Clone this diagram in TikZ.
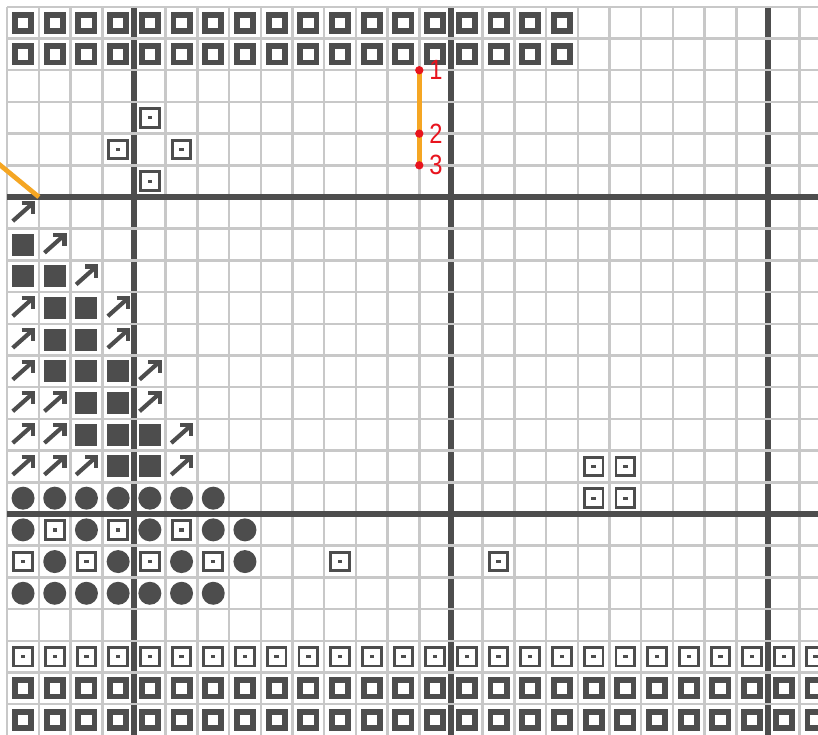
\documentclass[tikz,border=0pt]{standalone}
\usepackage{fontspec}
\newfontfamily\labfont{Liberation Sans}
\usetikzlibrary{positioning}
\definecolor{tile}{HTML}{4D4D4D}
\definecolor{gridgray}{HTML}{C8C8C8}
\definecolor{trail}{HTML}{F5A623}
\definecolor{mark}{HTML}{E8141E}
\tikzset{
  minor/.style = {draw=gridgray, line width=1.8pt},
  major/.style = {draw=tile, line width=4.3pt},
  wall/.style  = {draw=tile, line width=4.2pt, minimum size=11.6pt, inner sep=0pt},
  coin/.style  = {draw=tile, line width=2.1pt, minimum size=13.4pt, inner sep=0pt,
                  path picture={\fill[tile] (path picture bounding box.center)
                                ++(-1.6pt,-1.2pt) rectangle ++(3.2pt,2.4pt);}},
  solid/.style = {fill=tile, minimum size=15.8pt, inner sep=0pt},
  ball/.style  = {circle, fill=tile, minimum size=16.5pt, inner sep=0pt},
  rope/.style  = {draw=trail, line width=3.4pt},
  dot/.style   = {circle, fill=mark, minimum size=6pt, inner sep=0pt},
  num/.style   = {text=mark, font=\labfont\fontsize{20}{20}\selectfont, inner sep=1pt,
                  xscale=0.85},
  pics/upr/.style = {code={
    \draw[tile, line width=3pt] (-7.4pt,-5.9pt) -- (6.4pt,6.4pt);
    \draw[tile, line width=3pt, line join=miter] (-1pt,7pt) -- (7pt,7pt) -- (7pt,-1pt);
  }},
}
\begin{document}
\begin{tikzpicture}[x=8mm, y=-8mm]
\useasboundingbox (-0.227,-0.215) rectangle (25.577,22.94);
\clip (-0.227,-0.215) rectangle (25.577,22.94);
\fill[white] (-0.227,-0.215) rectangle (25.577,22.94);
\foreach \c in {0,...,26} \draw[minor] (\c,0) -- (\c,23.5);
\foreach \c in {4,14,24} \draw[major] (\c,0) -- (\c,23.5);
\foreach \r in {0,...,23} \draw[minor] (0,\r) -- (26.5,\r);
\foreach \r in {6,16} \draw[major] (0,\r) -- (26.5,\r);

\foreach \r in {0,1} \foreach \c in {0,...,17} \node[wall] at (\c+.5,\r+.5) {};
\foreach \r in {21,22} \foreach \c in {0,...,25} \node[wall] at (\c+.5,\r+.5) {};
\foreach \c in {0,...,25} \node[coin] at (\c+.5,20.5) {};
\foreach \c/\r in {4/3,3/4,5/4,4/5,18/14,19/14,18/15,19/15,1/16,3/16,5/16,
                   0/17,2/17,4/17,6/17,10/17,15/17}
  \node[coin] at (\c+.5,\r+.5) {};

\foreach \c/\r in {0/7,0/8,1/8,1/9,2/9,1/10,2/10,1/11,2/11,3/11,2/12,3/12,
                   2/13,3/13,4/13,3/14,4/14}
  \node[solid] at (\c+.5,\r+.5) {};
\foreach \c/\r in {0/6,1/7,2/8,0/9,3/9,0/10,3/10,0/11,4/11,0/12,1/12,4/12,
                   0/13,1/13,5/13,0/14,1/14,2/14,5/14}
  \pic at (\c+.5,\r+.5) {upr};
\foreach \c in {0,...,6} \node[ball] at (\c+.5,15.5) {};
\foreach \c in {0,...,6} \node[ball] at (\c+.5,18.5) {};
\foreach \c/\r in {0/16,2/16,4/16,6/16,7/16,1/17,3/17,5/17,7/17}
  \node[ball] at (\c+.5,\r+.5) {};

\coordinate (ropeA) at (-0.3,4.93);
\coordinate (ropeB) at (1,6);
\draw[rope] (ropeA) -- (ropeB);
\coordinate (p1) at (13,2);
\coordinate (p2) at (13,4);
\coordinate (p3) at (13,5);
\draw[rope] (p1) -- (p3);
\node[dot] (d1) at (p1) {};
\node[dot] (d2) at (p2) {};
\node[dot] (d3) at (p3) {};
\node[num, right=3pt of d1] {1};
\node[num, right=3pt of d2] {2};
\node[num, right=3pt of d3] {3};
\end{tikzpicture}
\end{document}
